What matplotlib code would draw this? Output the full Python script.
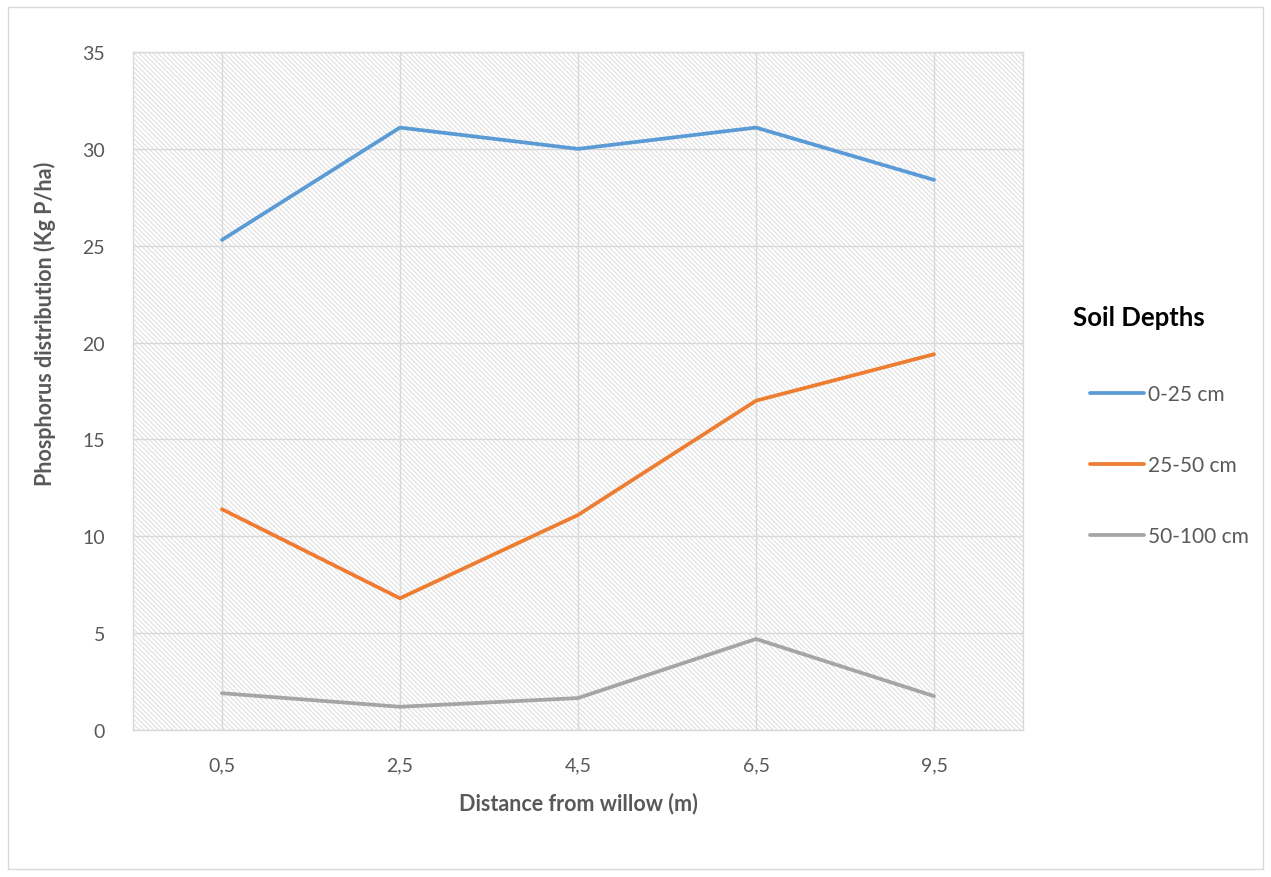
import matplotlib.pyplot as plt
from matplotlib.patches import Rectangle

plt.rcParams['font.family'] = ['Lato', 'DejaVu Sans']
plt.rcParams['hatch.linewidth'] = 0.8

distances = ['0,5', '2,5', '4,5', '6,5', '9,5']
depth_labels = ['0-25 cm', '25-50 cm', '50-100 cm']
p_0_25 = [25.3, 31.1, 30.0, 31.1, 28.4]
p_25_50 = [11.4, 6.8, 11.1, 17.0, 19.4]
p_50_100 = [1.9, 1.2, 1.65, 4.7, 1.75]
colors = ['#5B9BD5', '#ED7D31', '#A5A5A5']

grid_c = '#d9d9d9'
text_c = '#595959'
W, H = 1271, 878

fig = plt.figure(figsize=(W / 100, H / 100), dpi=100)
ax = fig.add_axes([0.1046, 0.1674, 0.7003, 0.7722])

# hatched plot area background
ax.add_patch(Rectangle((0, 0), 1, 1, transform=ax.transAxes, facecolor='white',
                       edgecolor='#e0e0e0', hatch='\\' * 7, linewidth=0, zorder=0))

x = range(len(distances))
lines = []
for vals, c in zip([p_0_25, p_25_50, p_50_100], colors):
    ln, = ax.plot(x, vals, color=c, lw=2.7, zorder=3, solid_capstyle='round')
    lines.append(ln)

ax.set_xlim(-0.5, len(distances) - 0.5)
ax.set_ylim(0, 35)
ax.set_yticks(range(0, 36, 5))
ax.set_xticks(list(x))
ax.set_xticklabels(distances)
ax.grid(True, color=grid_c, lw=1.0, zorder=1)
ax.set_axisbelow(True)
ax.tick_params(length=0, labelsize=14, colors=text_c)
ax.tick_params(axis='y', pad=20)
ax.tick_params(axis='x', pad=19)
for s in ax.spines.values():
    s.set_color(grid_c)
    s.set_linewidth(1.0)

ax.set_xlabel('Distance from willow (m)', fontsize=15.5, fontweight='bold',
              color=text_c, labelpad=13)
ax.set_ylabel('Phosphorus distribution (Kg P/ha)', fontsize=15.5, fontweight='bold',
              color=text_c)
ax.yaxis.set_label_coords(-0.087, 0.6)

# legend block on the right
fig.text(1073 / W, 1 - 318 / H, 'Soil Depths', fontsize=18.5, fontweight='bold',
         va='center', ha='left')
fig.legend(lines, depth_labels, loc='center left',
           bbox_to_anchor=(1080 / W, 1 - 466 / H), frameon=False, borderpad=0,
           fontsize=15, handlelength=2.55, handletextpad=0.2, labelspacing=2.45,
           labelcolor=text_c)

# outer chart border
fig.patches.append(Rectangle((8 / W, 8 / H), 1255 / W, 862 / H,
                             transform=fig.transFigure, fill=False,
                             edgecolor=grid_c, lw=1))

fig.savefig('out.png', dpi=100, facecolor='white')
